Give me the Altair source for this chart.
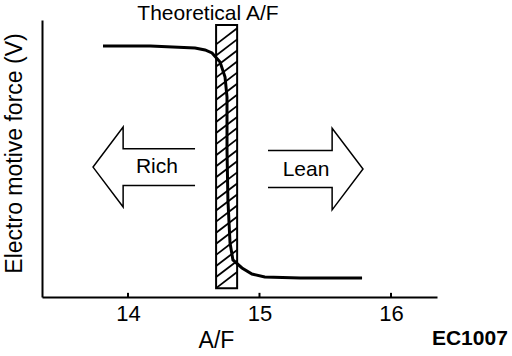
import altair as alt
import pandas as pd
import numpy as np

# ---- data ----
curve_af = [13.81, 14.17, 14.51, 14.586, 14.639, 14.70, 14.738, 14.753, 14.753, 14.760, 14.776, 14.798, 14.867, 14.943, 15.04, 15.31, 15.78]
curve_v = [0.906, 0.906, 0.899, 0.892, 0.881, 0.848, 0.794, 0.722, 0.531, 0.350, 0.195, 0.134, 0.105, 0.083, 0.072, 0.069, 0.069]

band_af = [14.67, 14.83]
band_v = [0.032, 0.982]

tick_values = [14, 15, 16]

label_text = ["Rich", "Lean"]
label_af = [14.22, 15.354]
label_v = [0.469, 0.458]

arrow_af = [14.122, 15.426]
arrow_v = [0.469, 0.462]

title_text = ["Theoretical A/F"]
title_af = [14.608]
title_v = [1.0]

code_text = ["EC1007"]
code_af = [16.60]
code_v = [-0.152]

FONT = "Liberation Sans"

curve_df = pd.DataFrame({"af": curve_af, "v": curve_v, "o": list(range(len(curve_af)))})
band_df = pd.DataFrame({"af": [band_af[0]], "af2": [band_af[1]], "v": [band_v[0]], "v2": [band_v[1]]})
hatch_y = np.arange(band_v[0], band_v[1] - 0.058, 0.04)
hatch_df = pd.DataFrame({"af": band_af[0], "af2": band_af[1], "v": hatch_y, "v2": hatch_y + 0.058})
tick_df = pd.DataFrame({"af": tick_values, "v": 0.0, "v2": 0.015})
label_df = pd.DataFrame({"t": label_text, "af": label_af, "v": label_v})
title_df = pd.DataFrame({"t": title_text, "af": title_af, "v": title_v})
code_df = pd.DataFrame({"t": code_text, "af": code_af, "v": code_v})
left_df = pd.DataFrame({"af": [arrow_af[0]], "v": [arrow_v[0]]})
right_df = pd.DataFrame({"af": [arrow_af[1]], "v": [arrow_v[1]]})

xscale = alt.Scale(domain=[13.346, 16.35], nice=False, zero=False)
yscale = alt.Scale(domain=[0, 1], nice=False, zero=False)

xaxis = alt.Axis(values=tick_values, ticks=False, grid=False, labelFontSize=22, labelFont=FONT,
                 labelColor="black", labelPadding=6, domainColor="black", domainWidth=2,
                 title="A/F", titleFont=FONT, titleFontSize=23, titleFontWeight="normal",
                 titleColor="black", titleX=174, titleY=50, titleBaseline="alphabetic", titleAlign="center")
yaxis = alt.Axis(labels=False, ticks=False, grid=False, domainColor="black", domainWidth=2,
                 title="Electro motive force (V)", titleFont=FONT, titleFontSize=23,
                 titleFontWeight="normal", titleColor="black", titleX=-28, titleY=133,
                 titleAngle=270, titleAlign="center", titleBaseline="middle")

X = alt.X("af:Q", scale=xscale, axis=xaxis)
Y = alt.Y("v:Q", scale=yscale, axis=yaxis)

curve = alt.Chart(curve_df).mark_line(color="black", strokeWidth=3).encode(x=X, y=Y, order="o:Q")
band = alt.Chart(band_df).mark_rect(fillOpacity=0, stroke="black", strokeWidth=2).encode(
    x=X, x2="af2:Q", y=Y, y2="v2:Q")
hatch = alt.Chart(hatch_df).mark_rule(color="black", strokeWidth=1.8).encode(
    x=X, x2="af2:Q", y=Y, y2="v2:Q")
ticks = alt.Chart(tick_df).mark_rule(color="black", strokeWidth=2).encode(x=X, y=Y, y2="v2:Q")

left_path = "M 1 -0.36 L -0.41 -0.36 L -0.41 -0.784 L -1 0 L -0.41 0.784 L -0.41 0.36 L 1 0.36"
right_path = "M -1 -0.39 L 0.35 -0.39 L 0.35 -0.86 L 1 0 L 0.35 0.86 L 0.35 0.39 L -1 0.39"
left_arrow = alt.Chart(left_df).mark_point(shape=left_path, filled=False, stroke="black",
                                           strokeWidth=1.5, size=10404, opacity=1).encode(x=X, y=Y)
right_arrow = alt.Chart(right_df).mark_point(shape=right_path, filled=False, stroke="black",
                                             strokeWidth=1.5, size=9025, opacity=1).encode(x=X, y=Y)

labels = alt.Chart(label_df).mark_text(font=FONT, fontSize=21, color="black").encode(
    x=X, y=Y, text="t:N")
title = alt.Chart(title_df).mark_text(font=FONT, fontSize=21, color="black", baseline="alphabetic").encode(
    x=X, y=Y, text="t:N")
code = alt.Chart(code_df).mark_text(font=FONT, fontSize=21, fontWeight="bold", color="black").encode(
    x=X, y=Y, text="t:N")

chart = alt.layer(band, hatch, curve, ticks, left_arrow, right_arrow, labels, title, code).properties(
    width=395, height=277,
    autosize=alt.AutoSizeParams(type="none"),
    padding={"left": 42, "top": 20, "right": 75, "bottom": 59},
    background="white",
).configure_view(stroke=None)

chart.save("out.html", embed_options={"renderer": "svg", "actions": False})
